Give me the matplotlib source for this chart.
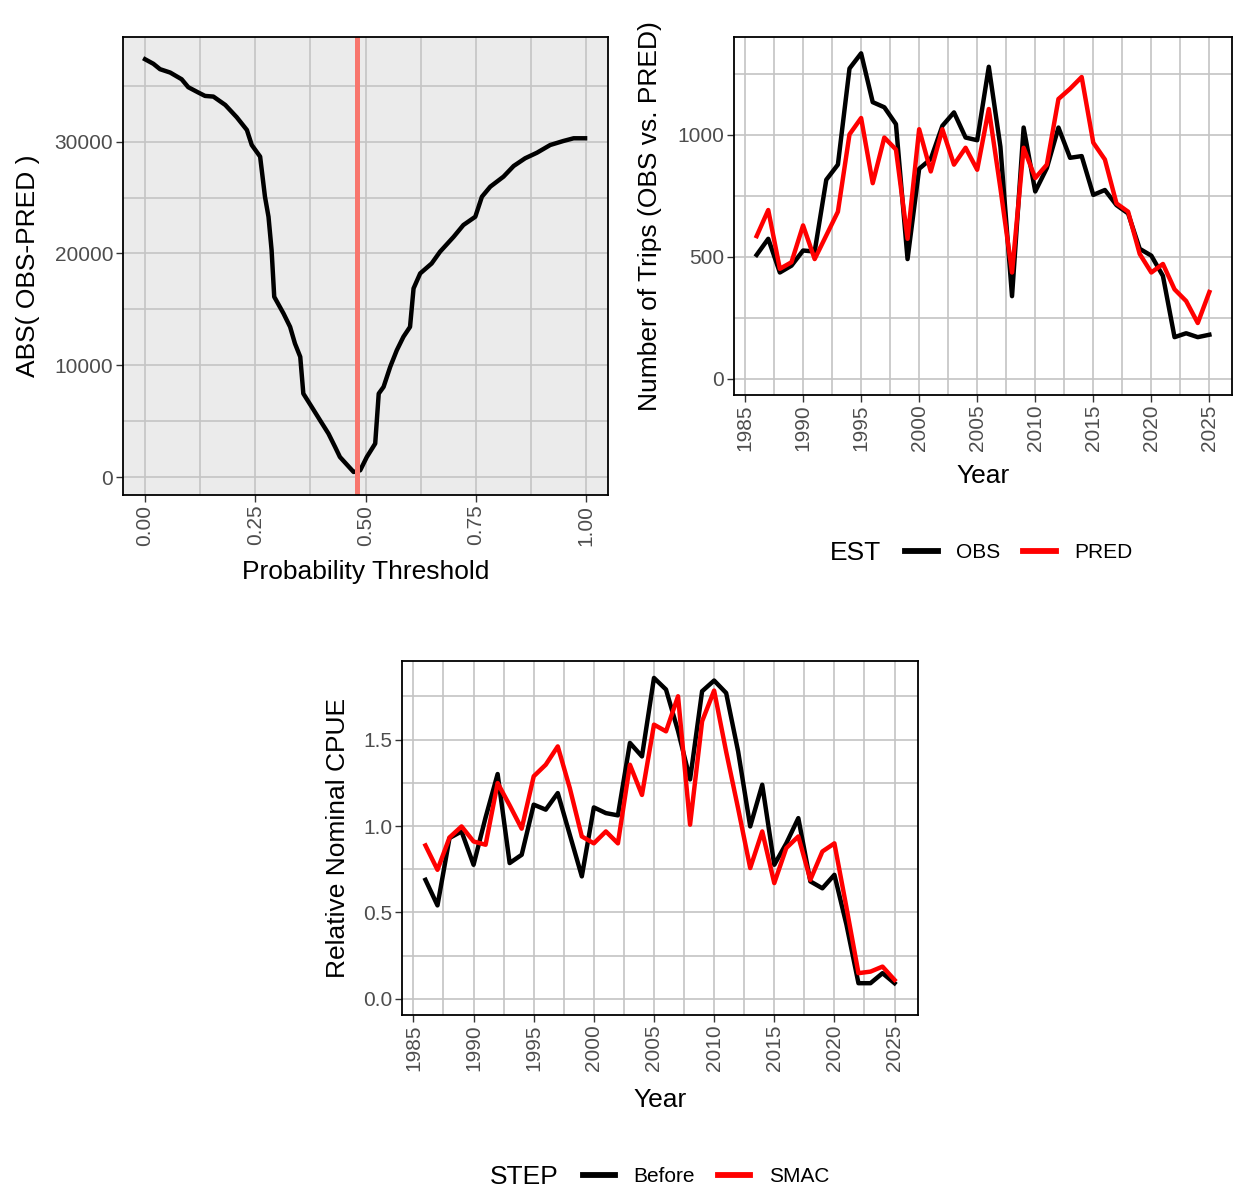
import matplotlib
matplotlib.use("Agg")
import matplotlib.pyplot as plt
from matplotlib.ticker import MultipleLocator, FixedLocator

plt.rcParams['font.family'] = ['Liberation Sans', 'DejaVu Sans']

# ---------------- data ----------------
threshold = [0.000, 0.019, 0.034, 0.057, 0.083, 0.098, 0.121, 0.136, 0.155, 0.182,
             0.208, 0.231, 0.242, 0.261, 0.272, 0.280, 0.287, 0.293, 0.314, 0.329,
             0.340, 0.352, 0.359, 0.378, 0.397, 0.416, 0.431, 0.442, 0.473, 0.488,
             0.503, 0.522, 0.530, 0.541, 0.556, 0.571, 0.586, 0.601, 0.609, 0.624,
             0.650, 0.669, 0.700, 0.722, 0.749, 0.764, 0.783, 0.813, 0.836, 0.862,
             0.889, 0.919, 0.949, 0.972, 0.998]
abs_diff = [37370, 36960, 36480, 36180, 35580, 34870, 34390, 34090, 34030, 33280,
            32180, 31040, 29700, 28660, 25070, 23280, 20300, 16120, 14630, 13430,
            11940, 10750, 7460, 6270, 5070, 3880, 2690, 1790, 450, 600,
            1790, 2990, 7460, 8060, 9850, 11340, 12540, 13430, 16870, 18210,
            19100, 20150, 21490, 22540, 23280, 25070, 25970, 26870, 27820, 28510,
            29010, 29700, 30060, 30300, 30300]
best_threshold = 0.48

years = list(range(1986, 2026))
obs = [507, 573, 435, 463, 525, 521, 815, 877, 1271, 1333,
       1133, 1112, 1043, 490, 860, 900, 1036, 1091, 988, 977,
       1278, 950, 338, 1029, 767, 863, 1029, 905, 912, 753,
       773, 711, 677, 532, 504, 421, 170, 186, 170, 180]
pred = [584, 691, 450, 477, 628, 490, 587, 684, 1001, 1068,
        801, 988, 939, 573, 1022, 849, 1022, 877, 946, 856,
        1105, 780, 435, 946, 822, 877, 1146, 1188, 1236, 967,
        898, 718, 684, 511, 435, 470, 366, 318, 228, 355]

before = [0.689, 0.541, 0.931, 0.969, 0.776, 1.050, 1.301, 0.786, 0.834, 1.124,
          1.095, 1.191, 0.950, 0.709, 1.108, 1.075, 1.062, 1.481, 1.403, 1.857,
          1.790, 1.550, 1.270, 1.780, 1.842, 1.770, 1.430, 0.998, 1.239, 0.776,
          0.900, 1.046, 0.680, 0.640, 0.718, 0.430, 0.091, 0.091, 0.149, 0.091]
smac = [0.888, 0.747, 0.934, 0.998, 0.911, 0.892, 1.249, 1.120, 0.985, 1.288,
        1.355, 1.461, 1.220, 0.940, 0.900, 0.969, 0.900, 1.355, 1.180, 1.587,
        1.548, 1.751, 1.008, 1.606, 1.784, 1.430, 1.100, 0.757, 0.969, 0.670,
        0.873, 0.940, 0.689, 0.853, 0.900, 0.530, 0.149, 0.158, 0.187, 0.110]

# ---------------- style ----------------
W, H = 1235, 1189
fig = plt.figure(figsize=(W / 100, H / 100), dpi=100)
GRID = '#C4C4C4'
TICKC = '#4D4D4D'
TICK_FS = 15
TITLE_FS = 19
LW = 3.2


def px_axes(x0, y0, x1, y1):
    return fig.add_axes([x0 / W, 1 - y1 / H, (x1 - x0) / W, (y1 - y0) / H])


def style(ax, bg):
    ax.set_facecolor(bg)
    for s in ax.spines.values():
        s.set_color('black')
        s.set_linewidth(1.3)
    ax.grid(which='both', color=GRID, linewidth=1.2)
    ax.set_axisbelow(True)
    ax.tick_params(which='major', direction='out', length=5, width=1.0,
                   color='#333333', labelcolor=TICKC, labelsize=TICK_FS, pad=2)
    ax.tick_params(which='minor', length=0)
    for lab in ax.get_xticklabels():
        lab.set_rotation(90)
        lab.set_va('top')
        lab.set_ha('center')


def labels(ax, xl, yl, xy, yx):
    ax.set_xlabel(xl, fontsize=TITLE_FS, color='black')
    ax.set_ylabel(yl, fontsize=TITLE_FS, color='black')
    ax.xaxis.set_label_coords(0.5, xy)
    ax.yaxis.set_label_coords(yx, 0.5)
    ax.xaxis.label.set_va('center')
    ax.yaxis.label.set_va('center')
    ax.yaxis.label.set_ha('center')


# ---- panel 1 ----
ax1 = px_axes(123, 37, 608, 495)
ax1.plot(threshold, abs_diff, color='black', lw=LW, solid_joinstyle='round')
ax1.axvline(best_threshold, color='#F8766D', lw=3.6)
ax1.set_xlim(-0.05, 1.05)
ax1.set_ylim(-1610, 39360)
ax1.xaxis.set_major_locator(FixedLocator([0, 0.25, 0.5, 0.75, 1.0]))
ax1.xaxis.set_minor_locator(FixedLocator([0.125, 0.375, 0.625, 0.875]))
ax1.set_xticklabels(['0.00', '0.25', '0.50', '0.75', '1.00'])
ax1.yaxis.set_major_locator(FixedLocator([0, 10000, 20000, 30000]))
ax1.yaxis.set_minor_locator(FixedLocator([5000, 15000, 25000, 35000]))
ax1.set_yticklabels(['0', '10000', '20000', '30000'])
style(ax1, '#EBEBEB')
labels(ax1, 'Probability Threshold', 'ABS( OBS-PRED )', (495 - 572) / 458, (28 - 123) / 485)

# ---- panel 2 ----
ax2 = px_axes(734, 37, 1232, 395)
l_obs, = ax2.plot(years, obs, color='black', lw=LW, label='OBS')
l_pred, = ax2.plot(years, pred, color='#FF0000', lw=LW, label='PRED')
ax2.set_xlim(1984.05, 2026.95)
ax2.set_ylim(-67, 1400)
ax2.xaxis.set_major_locator(MultipleLocator(5))
ax2.xaxis.set_minor_locator(FixedLocator([1987.5 + 5 * i for i in range(8)]))
ax2.yaxis.set_major_locator(FixedLocator([0, 500, 1000]))
ax2.yaxis.set_minor_locator(FixedLocator([250, 750, 1250]))
style(ax2, 'white')
labels(ax2, 'Year', 'Number of Trips (OBS vs. PRED)', (395 - 476) / 358, (650 - 734) / 498)

# ---- panel 3 ----
ax3 = px_axes(402, 661, 918, 1015)
l_bef, = ax3.plot(years, before, color='black', lw=LW, label='Before')
l_smac, = ax3.plot(years, smac, color='#FF0000', lw=LW, label='SMAC')
ax3.set_xlim(1984.05, 2026.95)
ax3.set_ylim(-0.093, 1.955)
ax3.xaxis.set_major_locator(MultipleLocator(5))
ax3.xaxis.set_minor_locator(FixedLocator([1987.5 + 5 * i for i in range(8)]))
ax3.yaxis.set_major_locator(FixedLocator([0, 0.5, 1.0, 1.5]))
ax3.yaxis.set_minor_locator(FixedLocator([0.25, 0.75, 1.25, 1.75]))
ax3.set_yticklabels(['0.0', '0.5', '1.0', '1.5'])
style(ax3, 'white')
labels(ax3, 'Year', 'Relative Nominal CPUE', (1015 - 1100) / 353, (338 - 402) / 516)

# ---- legends ----
def make_legend(handles, title, title_x, center_x, y):
    fig.text(title_x / W, 1 - y / H, title, fontsize=TITLE_FS, ha='left', va='center')
    lg = fig.legend(handles=handles, loc='center', ncol=2, frameon=False,
                    bbox_to_anchor=(center_x / W, 1 - y / H),
                    fontsize=TICK_FS, handlelength=1.55, handletextpad=0.9,
                    columnspacing=1.1)
    for h in lg.legend_handles:
        h.set_linewidth(4.2)
    return lg

make_legend([l_obs, l_pred], 'EST', 830, 1019, 553)
make_legend([l_bef, l_smac], 'STEP', 490, 706, 1177)

fig.savefig('out.png', dpi=100)
